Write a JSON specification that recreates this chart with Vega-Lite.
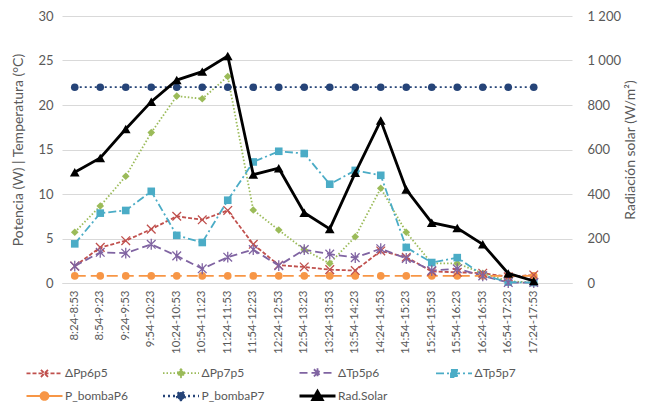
{
  "$schema": "https://vega.github.io/schema/vega-lite/v6.json",
  "width": 510,
  "height": 267,
  "autosize": {"type": "none"},
  "padding": {"left": 62, "top": 16, "right": 73, "bottom": 122},
  "background": "white",
  "config": {"font": "Lato", "view": {"stroke": null}},
  "data": {
    "values": [
      {"t": "8:24-8:53", "ΔPp6p5": 1.9, "ΔPp7p5": 5.7, "ΔTp5p6": 1.9, "ΔTp5p7": 4.4, "P_bombaP6": 0.8, "P_bombaP7": 22, "rad": 498},
      {"t": "8:54-9:23", "ΔPp6p5": 4.0, "ΔPp7p5": 8.65, "ΔTp5p6": 3.45, "ΔTp5p7": 7.85, "P_bombaP6": 0.8, "P_bombaP7": 22, "rad": 562},
      {"t": "9:24-9:53", "ΔPp6p5": 4.75, "ΔPp7p5": 12.0, "ΔTp5p6": 3.35, "ΔTp5p7": 8.15, "P_bombaP6": 0.8, "P_bombaP7": 22, "rad": 692},
      {"t": "9:54-10:23", "ΔPp6p5": 6.05, "ΔPp7p5": 16.9, "ΔTp5p6": 4.35, "ΔTp5p7": 10.3, "P_bombaP6": 0.8, "P_bombaP7": 22, "rad": 815},
      {"t": "10:24-10:53", "ΔPp6p5": 7.5, "ΔPp7p5": 21.0, "ΔTp5p6": 3.05, "ΔTp5p7": 5.35, "P_bombaP6": 0.8, "P_bombaP7": 22, "rad": 912},
      {"t": "10:54-11:23", "ΔPp6p5": 7.1, "ΔPp7p5": 20.7, "ΔTp5p6": 1.6, "ΔTp5p7": 4.55, "P_bombaP6": 0.8, "P_bombaP7": 22, "rad": 950},
      {"t": "11:24-11:53", "ΔPp6p5": 8.15, "ΔPp7p5": 23.2, "ΔTp5p6": 2.9, "ΔTp5p7": 9.3, "P_bombaP6": 0.8, "P_bombaP7": 22, "rad": 1020},
      {"t": "11:54-12:23", "ΔPp6p5": 4.35, "ΔPp7p5": 8.2, "ΔTp5p6": 3.75, "ΔTp5p7": 13.6, "P_bombaP6": 0.8, "P_bombaP7": 22, "rad": 487},
      {"t": "12:24-12:53", "ΔPp6p5": 2.0, "ΔPp7p5": 5.95, "ΔTp5p6": 1.95, "ΔTp5p7": 14.8, "P_bombaP6": 0.8, "P_bombaP7": 22, "rad": 516},
      {"t": "12:54-13:23", "ΔPp6p5": 1.8, "ΔPp7p5": 3.75, "ΔTp5p6": 3.75, "ΔTp5p7": 14.55, "P_bombaP6": 0.8, "P_bombaP7": 22, "rad": 316},
      {"t": "13:24-13:53", "ΔPp6p5": 1.5, "ΔPp7p5": 2.2, "ΔTp5p6": 3.25, "ΔTp5p7": 11.1, "P_bombaP6": 0.8, "P_bombaP7": 22, "rad": 243},
      {"t": "13:54-14:23", "ΔPp6p5": 1.4, "ΔPp7p5": 5.2, "ΔTp5p6": 2.85, "ΔTp5p7": 12.65, "P_bombaP6": 0.8, "P_bombaP7": 22, "rad": 495},
      {"t": "14:24-14:53", "ΔPp6p5": 3.6, "ΔPp7p5": 10.65, "ΔTp5p6": 3.85, "ΔTp5p7": 12.1, "P_bombaP6": 0.8, "P_bombaP7": 22, "rad": 730},
      {"t": "14:54-15:23", "ΔPp6p5": 2.9, "ΔPp7p5": 5.7, "ΔTp5p6": 2.75, "ΔTp5p7": 4.0, "P_bombaP6": 0.8, "P_bombaP7": 22, "rad": 420},
      {"t": "15:24-15:53", "ΔPp6p5": 1.3, "ΔPp7p5": 2.2, "ΔTp5p6": 1.4, "ΔTp5p7": 2.3, "P_bombaP6": 0.8, "P_bombaP7": 22, "rad": 271},
      {"t": "15:54-16:23", "ΔPp6p5": 1.2, "ΔPp7p5": 2.2, "ΔTp5p6": 1.6, "ΔTp5p7": 2.85, "P_bombaP6": 0.8, "P_bombaP7": 22, "rad": 247},
      {"t": "16:24-16:53", "ΔPp6p5": 1.1, "ΔPp7p5": 1.1, "ΔTp5p6": 0.8, "ΔTp5p7": 0.9, "P_bombaP6": 0.8, "P_bombaP7": 22, "rad": 174},
      {"t": "16:54-17:23", "ΔPp6p5": 0.7, "ΔPp7p5": 0.2, "ΔTp5p6": 0.05, "ΔTp5p7": 0.1, "P_bombaP6": 0.8, "P_bombaP7": 22, "rad": 43},
      {"t": "17:24-17:53", "ΔPp6p5": 0.9, "ΔPp7p5": 0.05, "ΔTp5p6": 0.05, "ΔTp5p7": 0.05, "P_bombaP6": 0.8, "P_bombaP7": 22, "rad": 9}
    ]
  },
  "encoding": {
    "x": {
      "field": "t",
      "type": "ordinal",
      "scale": {
        "type": "band",
        "paddingInner": 0,
        "paddingOuter": 0,
        "domain": ["8:24-8:53", "8:54-9:23", "9:24-9:53", "9:54-10:23", "10:24-10:53", "10:54-11:23", "11:24-11:53", "11:54-12:23", "12:24-12:53", "12:54-13:23", "13:24-13:53", "13:54-14:23", "14:24-14:53", "14:54-15:23", "15:24-15:53", "15:54-16:23", "16:24-16:53", "16:54-17:23", "17:24-17:53", " "]
      },
      "axis": {
        "title": null,
        "labelAngle": 270,
        "labelAlign": "right",
        "labelBaseline": "middle",
        "labelPadding": 7,
        "labelOverlap": false,
        "labelFontSize": 11.5,
        "labelColor": "#595959",
        "ticks": false,
        "grid": false,
        "domainColor": "#d9d9d9",
        "domainWidth": 1
      }
    }
  },
  "layer": [
    {
      "transform": [{"fold": ["ΔPp6p5", "ΔPp7p5", "ΔTp5p6", "ΔTp5p7", "P_bombaP6", "P_bombaP7"], "as": ["series", "v"]}],
      "encoding": {
        "y": {
          "field": "v",
          "type": "quantitative",
          "scale": {"domain": [0, 30], "nice": false, "zero": true},
          "axis": {
            "orient": "left",
            "values": [0, 5, 10, 15, 20, 25, 30],
            "grid": true,
            "gridColor": "#d9d9d9",
            "gridWidth": 1,
            "domain": false,
            "ticks": false,
            "labelFontSize": 13,
            "labelColor": "#595959",
            "labelPadding": 9,
            "title": "Potencia (W) | Temperatura (°C)",
            "titleFontSize": 14,
            "titleFontWeight": "normal",
            "titleColor": "#595959",
            "titlePadding": 12
          }
        }
      },
      "layer": [
        {
          "mark": {"type": "line", "strokeWidth": 1.8},
          "encoding": {
            "color": {
              "field": "series",
              "type": "nominal",
              "scale": {
                "domain": ["ΔPp6p5", "ΔPp7p5", "ΔTp5p6", "ΔTp5p7", "P_bombaP6", "P_bombaP7", "Rad.Solar"],
                "range": ["#c0504d", "#9bbb59", "#8064a2", "#4bacc6", "#f79646", "#264478", "#000000"]
              },
              "legend": {
                "title": null,
                "orient": "none",
                "legendX": -35,
                "legendY": 350,
                "columns": 4,
                "direction": "horizontal",
                "gridAlign": "all",
                "columnPadding": 28.5,
                "rowPadding": 3,
                "labelFontSize": 12,
                "labelColor": "#595959",
                "labelOffset": 14.5,
                "symbolOffset": 11.5,
                "symbolSize": 1296,
                "encode": {
                  "symbols": {
                    "update": {
                      "shape": {"signal": "datum.value === 'ΔPp6p5' ? 'M-1,0L1,0M-0.2,-0.2L0.2,0.2M-0.2,0.2L0.2,-0.2' : datum.value === 'ΔPp7p5' ? 'M-1,0L1,0M0,-0.22L0.22,0L0,0.22L-0.22,0Z' : datum.value === 'ΔTp5p6' ? 'M-1,0L1,0M-0.2,-0.2L0.2,0.2M-0.2,0.2L0.2,-0.2M0,-0.26L0,0.26' : datum.value === 'ΔTp5p7' ? 'M-1,0L1,0M-0.17,-0.2L0.17,-0.2L0.17,0.2L-0.17,0.2Z' : datum.value === 'Rad.Solar' ? 'M-1,0L1,0M0,-0.26L0.26,0.2L-0.26,0.2Z' : 'M-1,0L1,0M-0.22,0A0.22,0.22 0 1,0 0.22,0A0.22,0.22 0 1,0 -0.22,0Z'"},
                      "size": {"value": 1296},
                      "stroke": {"scale": "color", "field": "value"},
                      "fill": {"scale": "color", "field": "value"},
                      "strokeDash": {"signal": "datum.value === 'ΔPp6p5' ? [4,2] : datum.value === 'ΔPp7p5' ? [1.5,2] : datum.value === 'ΔTp5p6' ? [8,4] : datum.value === 'ΔTp5p7' ? [8,3,2,3] : datum.value === 'P_bombaP7' ? [2,3] : [1,0]"},
                      "strokeWidth": {"signal": "datum.value === 'Rad.Solar' ? 2.8 : datum.value === 'P_bombaP7' ? 2.4 : 1.8"},
                      "opacity": {"value": 1}
                    }
                  }
                }
              }
            },
            "strokeDash": {
              "field": "series",
              "type": "nominal",
              "scale": {
                "domain": ["ΔPp6p5", "ΔPp7p5", "ΔTp5p6", "ΔTp5p7", "P_bombaP6", "P_bombaP7"],
                "range": [[4, 2], [1.5, 2], [8, 4], [8, 3, 2, 3], [11, 5], [2, 3]]
              },
              "legend": null
            },
            "strokeWidth": {"condition": {"test": "datum.series === 'P_bombaP7'", "value": 2.4}, "value": 1.8}
          }
        },
        {
          "transform": [{"filter": "datum.series !== 'ΔPp6p5' && datum.series !== 'ΔTp5p6'"}],
          "mark": {"type": "point", "filled": true, "opacity": 1, "size": 58},
          "encoding": {
            "color": {
              "field": "series",
              "type": "nominal",
              "scale": {
                "domain": ["ΔPp6p5", "ΔPp7p5", "ΔTp5p6", "ΔTp5p7", "P_bombaP6", "P_bombaP7", "Rad.Solar"],
                "range": ["#c0504d", "#9bbb59", "#8064a2", "#4bacc6", "#f79646", "#264478", "#000000"]
              },
              "legend": null
            },
            "shape": {
              "field": "series",
              "type": "nominal",
              "scale": {
                "domain": ["ΔPp6p5", "ΔPp7p5", "ΔTp5p6", "ΔTp5p7", "P_bombaP6", "P_bombaP7"],
                "range": ["M-1,-1L1,1M-1,1L1,-1", "diamond", "M-1,-1L1,1M-1,1L1,-1M0,-1.25L0,1.25", "square", "circle", "circle"]
              },
              "legend": null
            }
          }
        },
        {
          "transform": [{"filter": "datum.series === 'ΔPp6p5' || datum.series === 'ΔTp5p6'"}],
          "mark": {"type": "point", "filled": false, "opacity": 1, "size": 75, "strokeWidth": 1.3},
          "encoding": {
            "color": {
              "field": "series",
              "type": "nominal",
              "scale": {
                "domain": ["ΔPp6p5", "ΔPp7p5", "ΔTp5p6", "ΔTp5p7", "P_bombaP6", "P_bombaP7", "Rad.Solar"],
                "range": ["#c0504d", "#9bbb59", "#8064a2", "#4bacc6", "#f79646", "#264478", "#000000"]
              },
              "legend": null
            },
            "shape": {
              "field": "series",
              "type": "nominal",
              "scale": {
                "domain": ["ΔPp6p5", "ΔPp7p5", "ΔTp5p6", "ΔTp5p7", "P_bombaP6", "P_bombaP7"],
                "range": ["M-1,-1L1,1M-1,1L1,-1", "diamond", "M-1,-1L1,1M-1,1L1,-1M0,-1.25L0,1.25", "square", "circle", "circle"]
              },
              "legend": null
            }
          }
        }
      ]
    },
    {
      "encoding": {
        "y": {
          "field": "rad",
          "type": "quantitative",
          "scale": {"domain": [0, 1200], "nice": false},
          "axis": {
            "orient": "right",
            "values": [0, 200, 400, 600, 800, 1000, 1200],
            "labelExpr": "replace(format(datum.value, ','), ',', ' ')",
            "grid": false,
            "domain": false,
            "ticks": false,
            "labelFontSize": 13,
            "labelColor": "#595959",
            "labelPadding": 15,
            "title": "Radiación solar (W/m²)",
            "titleAngle": 270,
            "titleFontSize": 14,
            "titleFontWeight": "normal",
            "titleColor": "#595959",
            "titlePadding": 17
          }
        }
      },
      "layer": [
        {
          "mark": {"type": "line", "strokeWidth": 2.8, "color": "#000000"},
          "encoding": {
            "color": {
              "datum": "Rad.Solar",
              "type": "nominal",
              "scale": {
                "domain": ["ΔPp6p5", "ΔPp7p5", "ΔTp5p6", "ΔTp5p7", "P_bombaP6", "P_bombaP7", "Rad.Solar"],
                "range": ["#c0504d", "#9bbb59", "#8064a2", "#4bacc6", "#f79646", "#264478", "#000000"]
              },
              "legend": null
            }
          }
        },
        {
          "mark": {"type": "point", "shape": "triangle-up", "filled": true, "size": 95, "opacity": 1},
          "encoding": {
            "color": {
              "datum": "Rad.Solar",
              "type": "nominal",
              "scale": {
                "domain": ["ΔPp6p5", "ΔPp7p5", "ΔTp5p6", "ΔTp5p7", "P_bombaP6", "P_bombaP7", "Rad.Solar"],
                "range": ["#c0504d", "#9bbb59", "#8064a2", "#4bacc6", "#f79646", "#264478", "#000000"]
              },
              "legend": null
            }
          }
        }
      ]
    }
  ],
  "resolve": {"scale": {"y": "independent"}}
}
